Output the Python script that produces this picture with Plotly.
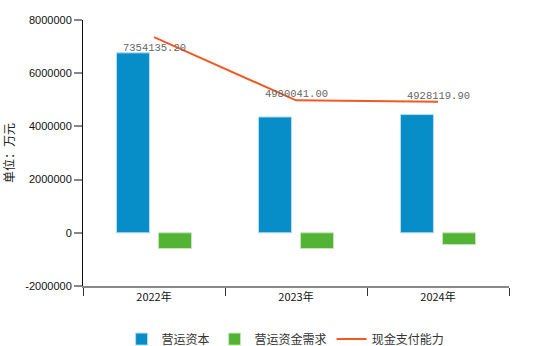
import plotly.graph_objects as go

# Chart data (单位：万元)
years = ["2022年", "2023年", "2024年"]
working_capital = [6765000, 4355000, 4445000]          # 营运资本
working_capital_need = [-590000, -590000, -440000]     # 营运资金需求
cash_payment_ability = [7354135.20, 4980041.00, 4928119.90]  # 现金支付能力
y_ticks = [-2000000, 0, 2000000, 4000000, 6000000, 8000000]

# vertical offsets (px) of the value labels on the line
label_shift = [-11, 6, 6]

BLUE = "#078DC8"
GREEN = "#52B334"
ORANGE = "#F05A22"
CJK = "Noto Sans CJK SC"

fig = go.Figure()
fig.add_trace(go.Bar(
    x=years, y=working_capital, name="营运资本",
    marker=dict(color=BLUE, line=dict(color="#B5DDF0", width=1)),
))
fig.add_trace(go.Bar(
    x=years, y=working_capital_need, name="营运资金需求",
    marker=dict(color=GREEN, line=dict(color="#C5E6B8", width=1)),
))
fig.add_trace(go.Scatter(
    x=years, y=cash_payment_ability, name="现金支付能力",
    mode="lines", line=dict(color=ORANGE, width=2),
))

for yr, v, dy in zip(years, cash_payment_ability, label_shift):
    fig.add_annotation(
        x=yr, y=v, text=f"{v:.2f}", showarrow=False, yshift=dy,
        font=dict(family="Liberation Mono", size=10.5, color="#666666"),
    )

fig.add_annotation(
    xref="paper", yref="paper", x=-75 / 426, y=0.5, text="单位：万元",
    textangle=-90, showarrow=False, xanchor="center", yanchor="middle",
    font=dict(family=CJK, size=12, color="#222222"),
)

fig.update_layout(
    width=560, height=346,
    margin=dict(l=83, r=51, t=20, b=60),
    paper_bgcolor="white", plot_bgcolor="white",
    barmode="group", bargap=0.408, bargroupgap=0.216,
    font=dict(family=CJK, size=12, color="#222222"),
    showlegend=True,
    legend=dict(
        orientation="h", xref="container", yref="container",
        x=0.51, xanchor="center", y=0.02, yanchor="middle",
        font=dict(family=CJK, size=12, color="#333333"),
        itemwidth=30,
    ),
)

fig.update_xaxes(
    type="category", range=[-0.5, 2.5],
    showline=True, linecolor="#888888", linewidth=2,
    ticks="outside", tickson="boundaries", ticklen=8, tickcolor="#333333", tickwidth=1,
    showgrid=False, zeroline=False,
    tickfont=dict(family=CJK, size=11, color="#111111"),
)
fig.update_yaxes(
    range=[-2000000, 8000000],
    tickvals=y_ticks, ticktext=[str(v) for v in y_ticks],
    showline=True, linecolor="#111111", linewidth=1,
    ticks="outside", ticklen=8, tickcolor="#888888", tickwidth=2,
    showgrid=False, zeroline=False,
    tickfont=dict(family="Liberation Sans", size=11, color="#111111"),
)

fig.write_html("out.html")
